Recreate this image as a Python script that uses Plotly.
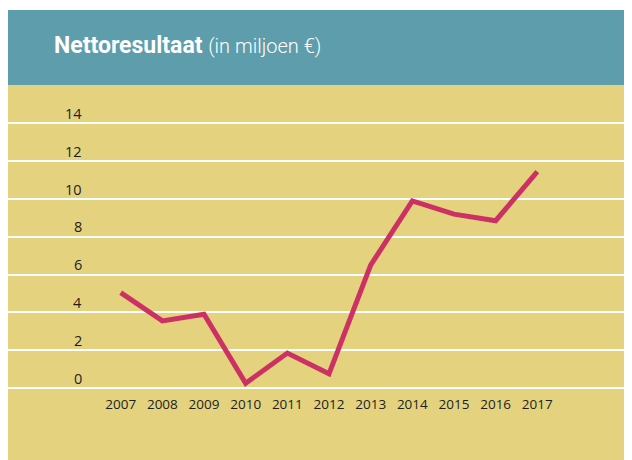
import plotly.graph_objects as go

years = [2007, 2008, 2009, 2010, 2011, 2012, 2013, 2014, 2015, 2016, 2017]
net_result = [5.05, 3.55, 3.9, 0.25, 1.85, 0.75, 6.5, 9.9, 9.2, 8.85, 11.45]
y_ticks = [0, 2, 4, 6, 8, 10, 12, 14]
year_labels = [str(y) for y in years]

title_main = "Nettoresultaat"
title_sub = "(in miljoen €)"

# page has an 8px body margin; work in screen coordinates and subtract it
OFF = 8
W, H = 632 - OFF, 460 - OFF
T = 85 - OFF
plot_w, plot_h = W, H - T

TEAL = "#5e9dab"
YELLOW = "#e4d27f"
LINE = "#cc3163"
TEXT = "#1e1e1e"

fig = go.Figure()
fig.add_trace(go.Scatter(
    x=years, y=net_result, mode="lines",
    line=dict(color=LINE, width=5, shape="linear"),
    hoverinfo="skip", showlegend=False,
))

x_per = 41.66
y_per = 18.9
fig.update_layout(
    width=W, height=H,
    margin=dict(l=0, r=0, t=T, b=0, autoexpand=False),
    paper_bgcolor="white",
    plot_bgcolor=YELLOW,
    showlegend=False,
    xaxis=dict(
        range=[2007 - (120.7 - OFF) / x_per, 2017 + (632 - 537.3) / x_per],
        tickvals=years, ticktext=year_labels,
        showgrid=False, zeroline=False, showline=False,
        ticks="outside", ticklen=4, tickcolor="rgba(0,0,0,0)",
        anchor="free", position=(460 - 388) / plot_h,
        tickfont=dict(family="Open Sans, Noto Sans, sans-serif", size=13.5, color=TEXT),
        fixedrange=True,
    ),
    yaxis=dict(
        range=[-(460 - 388) / y_per, (388 - 85) / y_per],
        tickvals=y_ticks,
        showgrid=True, gridcolor="white", gridwidth=1.5,
        zeroline=False, showline=False, showticklabels=False,
        fixedrange=True,
    ),
    shapes=[dict(
        type="rect", xref="paper", yref="paper",
        x0=0, x1=1, y0=1, y1=1 + (85 - 10) / plot_h,
        fillcolor=TEAL, line=dict(width=0), layer="below",
    )],
)

for v in y_ticks:
    fig.add_annotation(
        x=(84 - OFF) / plot_w, xref="paper", xanchor="right",
        y=v, yref="y", yshift=10, yanchor="middle",
        text=str(v), showarrow=False,
        font=dict(family="Open Sans, Noto Sans, sans-serif", size=14.5, color=TEXT),
    )

fig.add_annotation(
    x=(52 - OFF) / plot_w, xref="paper", xanchor="left",
    y=1 + (85 - 46) / plot_h, yref="paper", yanchor="middle",
    text=f"<b>{title_main}</b> <span style='font-size:20px;font-weight:300'>{title_sub}</span>",
    showarrow=False,
    font=dict(family="Roboto, Open Sans, sans-serif", size=23, color="white"),
)

fig.write_html("out.html")
